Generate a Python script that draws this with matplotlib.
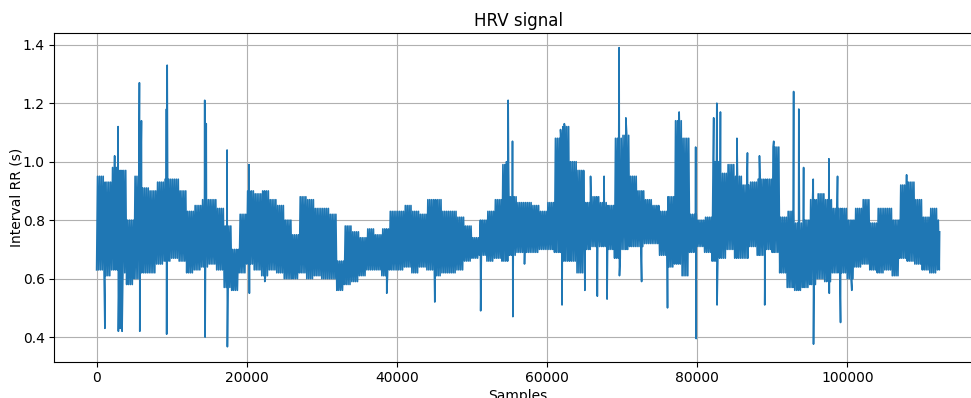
import numpy as np
import matplotlib
matplotlib.use('Agg')
import matplotlib.pyplot as plt

plt.rcParams['path.simplify'] = False

# ===== DANE =====
BIN = 1000          # szerokosc przedzialu w probkach
LAST_SAMPLE = 112300

# gorna i dolna krawedz gestego pasma sygnalu, przedzialy po 1000 probek
band_hi = [0.95, 0.93, 0.98, 0.97, 0.80, 0.95, 0.91, 0.90, 0.93, 0.94,
           0.94, 0.90, 0.83, 0.85, 0.87, 0.87, 0.84, 0.78, 0.70, 0.82,
           0.90, 0.89, 0.90, 0.87, 0.85, 0.80, 0.75, 0.88, 0.87, 0.84,
           0.84, 0.82, 0.66, 0.78, 0.76, 0.74, 0.77, 0.75, 0.77, 0.83,
           0.83, 0.85, 0.83, 0.82, 0.87, 0.87, 0.83, 0.83, 0.81, 0.78,
           0.74, 0.80, 0.83, 0.87, 0.99, 0.88, 0.86, 0.86, 0.85, 0.83,
           0.86, 1.08, 1.12, 1.00, 0.97, 0.86, 0.88, 0.86, 0.85, 1.08,
           1.09, 0.95, 0.90, 0.87, 0.85, 0.83, 0.88, 1.14, 1.08, 0.82,
           0.80, 0.81, 1.00, 0.96, 0.99, 0.95, 0.92, 0.93, 0.94, 0.94,
           1.05, 0.81, 0.83, 0.79, 0.80, 0.87, 0.89, 0.87, 0.84, 0.84,
           0.80, 0.84, 0.87, 0.79, 0.84, 0.84, 0.80, 0.92, 0.93, 0.87,
           0.81, 0.84, 0.80]
band_lo = [0.63, 0.61, 0.63, 0.62, 0.58, 0.60, 0.62, 0.62, 0.65, 0.66,
           0.67, 0.66, 0.62, 0.63, 0.64, 0.65, 0.63, 0.57, 0.56, 0.62,
           0.65, 0.63, 0.61, 0.63, 0.62, 0.60, 0.60, 0.62, 0.60, 0.61,
           0.60, 0.60, 0.56, 0.58, 0.59, 0.61, 0.63, 0.63, 0.61, 0.63,
           0.63, 0.64, 0.62, 0.64, 0.63, 0.61, 0.62, 0.62, 0.63, 0.66,
           0.67, 0.68, 0.66, 0.67, 0.66, 0.68, 0.69, 0.69, 0.69, 0.70,
           0.70, 0.69, 0.66, 0.66, 0.62, 0.70, 0.71, 0.71, 0.70, 0.67,
           0.70, 0.71, 0.71, 0.72, 0.72, 0.68, 0.64, 0.65, 0.61, 0.69,
           0.71, 0.69, 0.66, 0.67, 0.70, 0.67, 0.67, 0.71, 0.68, 0.70,
           0.69, 0.62, 0.57, 0.56, 0.57, 0.58, 0.60, 0.59, 0.62, 0.62,
           0.60, 0.64, 0.65, 0.63, 0.62, 0.63, 0.61, 0.67, 0.66, 0.65,
           0.63, 0.62, 0.63]

# pojedyncze piki wychodzace poza pasmo (numer probki, RR w s)
spike_x = [1100, 2400, 2860, 2900, 3150, 3390, 5700, 5750, 5850, 5970,
           9300, 9330, 9400, 14400, 14450, 14600, 17380, 17420, 20300, 20350,
           22400, 38650, 45050, 51160, 54600, 54820, 55400, 55450, 57000, 61800,
           62000, 62300, 65040, 65800, 66700, 67600, 68000, 69600, 69650, 70500,
           72600, 76050, 77600, 79800, 79870, 82200, 82620, 82650, 83100, 85300,
           86700, 88300, 89000, 90200, 92850, 93540, 94180, 95460, 95500, 97550,
           97600, 98700, 99100, 100600, 107900]
spike_v = [0.43, 1.02, 1.12, 0.42, 0.43, 0.42, 1.27, 0.42, 1.10, 1.14,
           1.18, 0.41, 1.33, 1.21, 0.40, 1.13, 1.04, 0.367, 0.99, 0.55,
           0.59, 0.55, 0.52, 0.49, 1.00, 1.21, 1.07, 0.47, 0.65, 1.11,
           0.51, 1.13, 0.56, 0.95, 0.54, 0.95, 0.53, 1.39, 0.61, 1.15,
           0.59, 0.50, 1.17, 1.05, 0.395, 1.15, 1.20, 0.51, 1.17, 1.08,
           1.03, 1.02, 0.51, 1.07, 1.24, 1.18, 0.98, 0.94, 0.376, 1.01,
           0.55, 0.95, 0.45, 0.56, 0.955]

# ===== BUDOWA LINII =====
pts = []
for i, (h, l) in enumerate(zip(band_hi, band_lo)):
    x0 = i * BIN
    for k, v in enumerate([l, h, l, h, l, h, l, h]):
        x = x0 + k * BIN // 8
        if x <= LAST_SAMPLE:
            pts.append((x, v))
pts.append((LAST_SAMPLE, band_hi[-1] - 0.04))
pts += list(zip(spike_x, spike_v))
pts.sort(key=lambda p: p[0])
sig_x = np.array([p[0] for p in pts])
sig_y = np.array([p[1] for p in pts])

# ===== WYKRES =====
fig = plt.figure(figsize=(9.71, 3.98), dpi=100)
ax = fig.add_axes([0.0561, 0.0912, 0.955, 0.8266])
ax.plot(sig_x, sig_y, color='#1f77b4', linewidth=1.2)
ax.set_title('HRV signal', pad=4.5)
ax.set_xlabel('Samples', labelpad=2.5)
ax.set_ylabel('Interval RR (s)', labelpad=-0.5)
ax.grid(True)

fig.savefig('out.png', dpi=100)
